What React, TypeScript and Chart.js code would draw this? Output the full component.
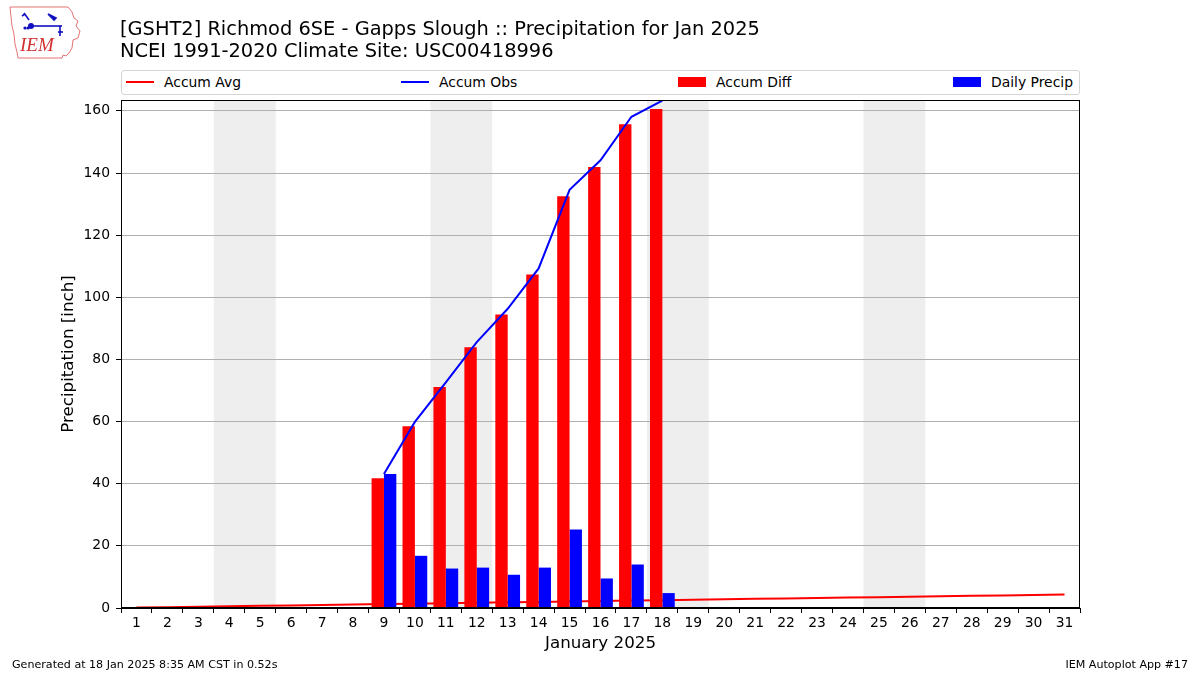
import React, { useEffect, useRef } from "react";
import { Chart, registerables } from "chart.js";

Chart.register(...registerables);

const days = [1, 2, 3, 4, 5, 6, 7, 8, 9, 10, 11, 12, 13, 14, 15, 16, 17, 18, 19, 20, 21, 22, 23, 24, 25, 26, 27, 28, 29, 30, 31];
const accumAvg = [0.14, 0.28, 0.41, 0.55, 0.69, 0.83, 0.97, 1.11, 1.26, 1.40, 1.54, 1.68, 1.82, 1.96, 2.10, 2.24, 2.38, 2.52, 2.66, 2.80, 2.94, 3.08, 3.22, 3.36, 3.50, 3.64, 3.78, 3.92, 4.06, 4.20, 4.34];
const obsDays = [9, 10, 11, 12, 13, 14, 15, 16, 17, 18];
const accumObs = [43.1, 59.9, 72.6, 85.6, 96.3, 109.3, 134.6, 144.1, 158.1, 163.3];
const accumDiff = [41.8, 58.5, 71.1, 83.9, 94.5, 107.3, 132.5, 141.9, 155.7, 160.6];
const dailyPrecip = [43.1, 16.8, 12.7, 13.0, 10.7, 13.0, 25.3, 9.5, 14.0, 4.8];
const weekendStarts = [4, 11, 18, 25];
const yTicks = [0, 20, 40, 60, 80, 100, 120, 140, 160];

const FONT = "'DejaVu Sans', sans-serif";

const shadePlugin = {
  id: "shade",
  beforeDraw(chart: any) {
    const { ctx, chartArea } = chart;
    const xs = chart.scales.x;
    ctx.save();
    ctx.fillStyle = "#eeeeee";
    weekendStarts.forEach((d) => {
      const x0 = xs.getPixelForValue(d - 0.5);
      const x1 = xs.getPixelForValue(d + 1.5);
      ctx.fillRect(x0, chartArea.top, x1 - x0, chartArea.bottom - chartArea.top);
    });
    ctx.restore();
  },
  afterDraw(chart: any) {
    const { ctx, chartArea } = chart;
    ctx.save();
    ctx.strokeStyle = "#000";
    ctx.lineWidth = 1;
    ctx.strokeRect(
      Math.round(chartArea.left) + 0.5,
      Math.round(chartArea.top) + 0.5,
      Math.round(chartArea.right - chartArea.left) - 1,
      Math.round(chartArea.bottom - chartArea.top) - 1
    );
    ctx.restore();
  },
};

function ChartCanvas() {
  const ref = useRef<HTMLCanvasElement>(null);
  useEffect(() => {
    if (!ref.current) return;
    const chart = new Chart(ref.current, {
      type: "bar",
      data: {
        datasets: [
          {
            type: "line",
            label: "Accum Avg",
            data: days.map((d, i) => ({ x: d, y: accumAvg[i] })),
            borderColor: "#ff0000",
            backgroundColor: "#ff0000",
            borderWidth: 2,
            pointRadius: 0,
            tension: 0,
            order: 3,
          },
          {
            type: "line",
            label: "Accum Obs",
            data: obsDays.map((d, i) => ({ x: d, y: accumObs[i] })),
            borderColor: "#0000ff",
            backgroundColor: "#0000ff",
            borderWidth: 2,
            pointRadius: 0,
            tension: 0,
            order: 1,
          },
          {
            type: "bar",
            label: "Accum Diff",
            data: obsDays.map((d, i) => ({ x: d, y: accumDiff[i] })),
            backgroundColor: "#ff0000",
            borderWidth: 0,
            categoryPercentage: 0.8,
            barPercentage: 1.0,
            order: 2,
          },
          {
            type: "bar",
            label: "Daily Precip",
            data: obsDays.map((d, i) => ({ x: d, y: dailyPrecip[i] })),
            backgroundColor: "#0000ff",
            borderWidth: 0,
            categoryPercentage: 0.8,
            barPercentage: 1.0,
            order: 2,
          },
        ],
      } as any,
      options: {
        animation: false,
        responsive: false,
        devicePixelRatio: 1,
        layout: { padding: { left: 55, top: 100, right: 120, bottom: 17 } },
        plugins: {
          legend: { display: false },
          tooltip: { enabled: false },
          title: { display: false },
        },
        scales: {
          x: {
            type: "linear",
            min: 0.5,
            max: 31.5,
            offset: false,
            afterBuildTicks: (s: any) => {
              s.ticks = days.map((v) => ({ value: v }));
            },
            afterFit: (s: any) => {
              s.height = 50;
            },
            ticks: {
              color: "#000",
              font: { family: FONT, size: 13.9 },
              padding: 2,
              maxRotation: 0,
              autoSkip: false,
              callback: (v: any) => String(v),
            },
            grid: {
              drawOnChartArea: false,
              drawTicks: true,
              tickLength: 5,
              color: "#000",
              tickColor: "#000",
            },
            border: { display: true, color: "#000" },
            title: {
              display: true,
              text: "January 2025",
              color: "#000",
              font: { family: FONT, size: 16.7 },
              padding: { top: 2, bottom: 4 },
            },
          },
          y: {
            type: "linear",
            min: 0,
            max: 163.5,
            afterBuildTicks: (s: any) => {
              s.ticks = yTicks.map((v) => ({ value: v }));
            },
            afterFit: (s: any) => {
              s.width = 66;
            },
            ticks: {
              color: "#000",
              font: { family: FONT, size: 13.9 },
              padding: 6,
              callback: (v: any) => String(v),
            },
            grid: {
              color: "#b0b0b0",
              tickColor: "#000",
              tickLength: 5,
              drawTicks: true,
            },
            border: { display: true, color: "#000" },
            title: {
              display: true,
              text: "Precipitation [inch]",
              color: "#000",
              font: { family: FONT, size: 16.7 },
              padding: { top: 4, bottom: 2 },
            },
          },
        },
      } as any,
      plugins: [shadePlugin],
    });
    return () => chart.destroy();
  }, []);
  return (
    <canvas
      ref={ref}
      width={1200}
      height={675}
      style={{ position: "absolute", left: 0, top: 0, width: 1200, height: 675 }}
    />
  );
}

function Logo() {
  return (
    <svg width={80} height={60} style={{ position: "absolute", left: 6, top: 4 }} viewBox="0 0 80 60">
      <path
        d="M4,3 L62,3 L66,8 L68,14 L72,17 L70,22 L74,27 L72,34 L67,36 L66,44 L63,49 L60,52 L57,51 L56,54 L12,54 L11,48 L9,40 L8,30 L6,22 L5,13 Z"
        fill="#fff"
        stroke="#e57373"
        strokeWidth={1}
      />
      <g stroke="#1010c0" strokeWidth={1.6} fill="#1010c0">
        <line x1={24} y1={22} x2={56} y2={22} />
        <circle cx={25} cy={22} r={2.2} />
        <line x1={18} y1={9} x2={23} y2={16} />
        <line x1={16} y1={12} x2={19} y2={10} />
        <path d="M42,10 L50,14 L48,16 Z" />
        <line x1={54} y1={22} x2={54} y2={32} />
        <line x1={52} y1={28} x2={57} y2={28} />
        <circle cx={19} cy={24} r={0.8} />
        <circle cx={22} cy={24} r={0.8} />
      </g>
      <text
        x={14}
        y={47}
        fill="#d32f2f"
        fontFamily="'Liberation Serif', serif"
        fontStyle="italic"
        fontSize={19}
      >
        IEM
      </text>
    </svg>
  );
}

const legendItems = [
  { label: "Accum Avg", color: "#ff0000", kind: "line", left: 126 },
  { label: "Accum Obs", color: "#0000ff", kind: "line", left: 401 },
  { label: "Accum Diff", color: "#ff0000", kind: "box", left: 678 },
  { label: "Daily Precip", color: "#0000ff", kind: "box", left: 953 },
];

export default function App() {
  return (
    <div
      style={{
        position: "absolute",
        left: 0,
        top: 0,
        width: 1200,
        height: 675,
        background: "#fff",
        fontFamily: FONT,
        overflow: "hidden",
      }}
    >
      <ChartCanvas />
      <Logo />
      <div
        style={{
          position: "absolute",
          left: 120,
          top: 18,
          fontSize: 19.4,
          lineHeight: "22px",
          color: "#000",
          whiteSpace: "nowrap",
        }}
      >
        <div>[GSHT2] Richmod 6SE - Gapps Slough :: Precipitation for Jan 2025</div>
        <div>NCEI 1991-2020 Climate Site: USC00418996</div>
      </div>
      <div
        style={{
          position: "absolute",
          left: 121,
          top: 70,
          width: 959,
          height: 25,
          boxSizing: "border-box",
          border: "1px solid #d5d5d5",
          borderRadius: 3,
          background: "#fff",
        }}
      />
      {legendItems.map((it) => (
        <div
          key={it.label}
          style={{
            position: "absolute",
            left: it.left,
            top: 72,
            height: 20,
            display: "flex",
            alignItems: "center",
            fontSize: 13.9,
            color: "#000",
            whiteSpace: "nowrap",
          }}
        >
          <span
            style={{
              display: "inline-block",
              width: 28,
              height: it.kind === "line" ? 2 : 10,
              background: it.color,
              marginRight: 10,
            }}
          />
          <span>{it.label}</span>
        </div>
      ))}
      <div style={{ position: "absolute", left: 12, top: 658, fontSize: 11.1, color: "#000", whiteSpace: "nowrap" }}>
        Generated at 18 Jan 2025 8:35 AM CST in 0.52s
      </div>
      <div style={{ position: "absolute", right: 12, top: 658, fontSize: 11.1, color: "#000", whiteSpace: "nowrap" }}>
        IEM Autoplot App #17
      </div>
    </div>
  );
}
